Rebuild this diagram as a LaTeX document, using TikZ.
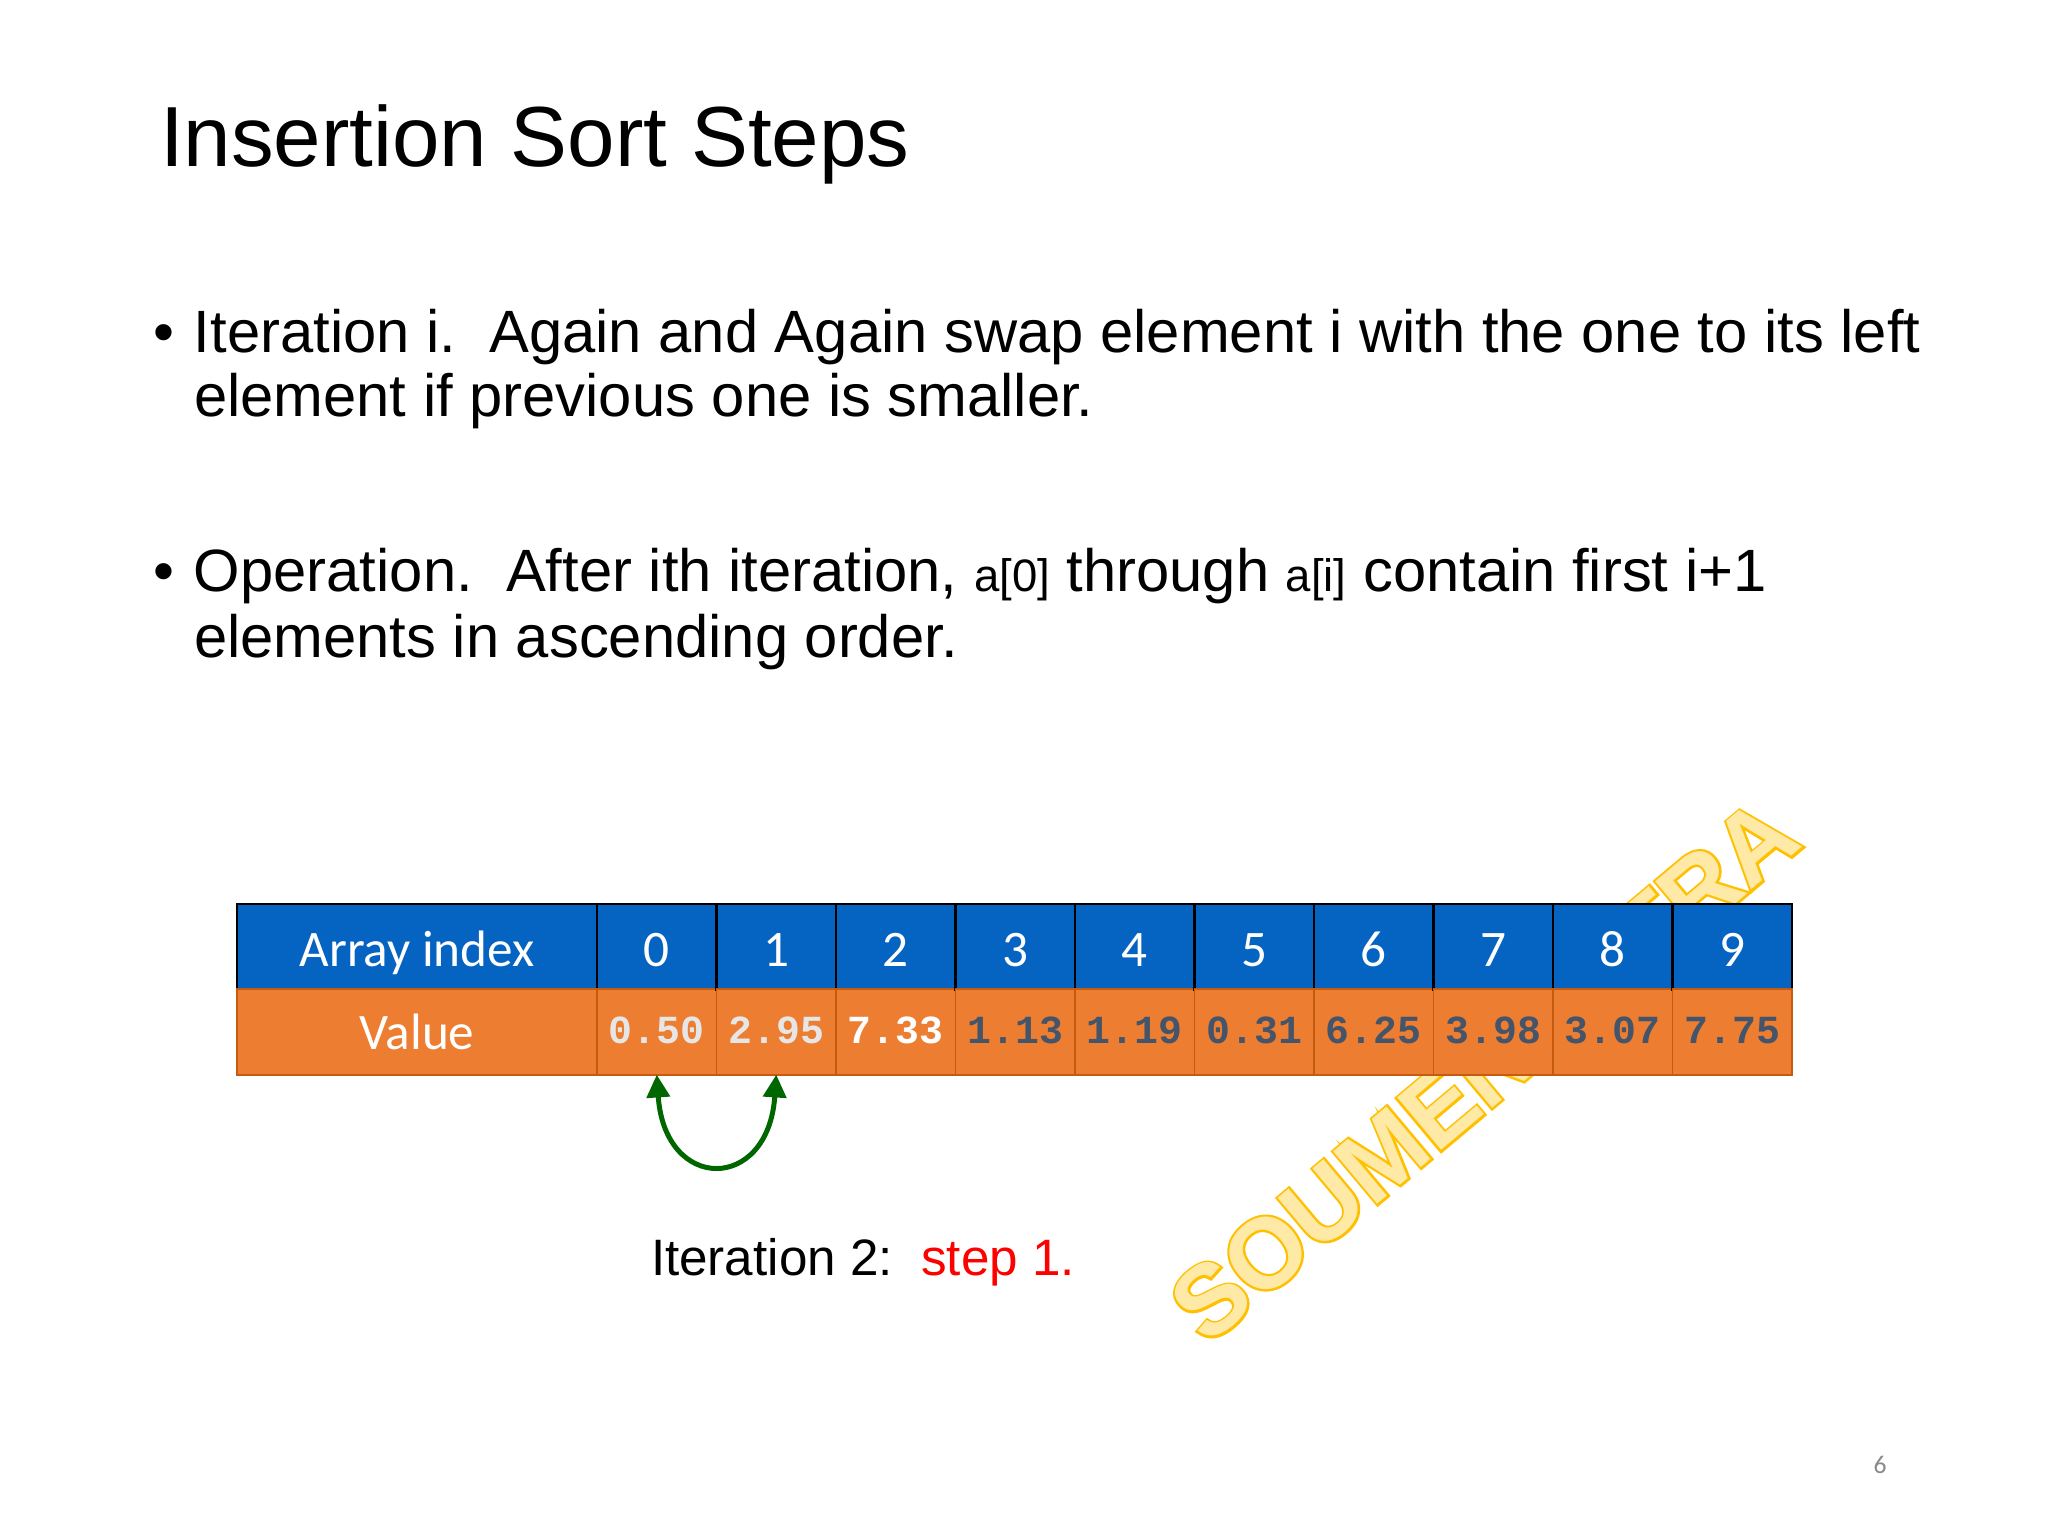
\documentclass[tikz,border=0pt]{standalone}
\usepackage{fontspec}
\setmainfont{Liberation Sans}
\newfontfamily\calibri{Carlito}
\newfontfamily\couriernew{Liberation Mono Bold}
\newfontfamily\wmfont{Liberation Sans Bold}
\newfontfamily\wmoutline{Liberation Sans Bold}[FakeBold=4.5]
\usetikzlibrary{calc}
\usetikzlibrary{arrows.meta}
\usetikzlibrary{positioning}

\definecolor{hdrblue}{HTML}{0563C1}
\definecolor{valorange}{HTML}{ED7D31}
\definecolor{valedge}{HTML}{C55A11}
\definecolor{valdark}{HTML}{44546A}
\definecolor{vallight}{HTML}{E7E6E6}
\definecolor{swapgreen}{HTML}{006600}
\definecolor{wmgold}{HTML}{FFC000}
\definecolor{wmfill}{HTML}{FFE9A6}
\definecolor{slidegrey}{HTML}{898989}

\begin{document}
\begin{tikzpicture}[x=0.3515625pt, y=-0.3515625pt,
  every node/.style={inner sep=0pt, outer sep=0pt},
  bodyline/.style={anchor=base west, font=\fontsize{21}{25}\selectfont},
  idxhead/.style={draw=black, line width=0.75pt, fill=hdrblue, text=white,
    font=\calibri\fontsize{18}{22}\selectfont, minimum height=30pt,
    text height=16.4pt, text depth=2.4pt},
  valcell/.style={draw=valedge, line width=0.6pt, fill=valorange,
    minimum height=30pt}]
\useasboundingbox (0,0) rectangle (2048,1536);

\node[anchor=base west, font=\fontsize{30}{36}\selectfont] (title) at (160,167) {Insertion Sort Steps};

\node[bodyline] (iter) at (194,353) {\llap{\makebox[14.4pt][l]{•}}Iteration i.\ \ Again and Again swap element i with the one to its left};
\node[bodyline] (iter2) at (194,417) {element if previous one is smaller.};
\node[bodyline] (oper) at (194,592) {\llap{\makebox[14.4pt][l]{•}}Operation.\ \ After ith iteration, {\fontsize{16}{16}\selectfont a[0]} through {\fontsize{16}{16}\selectfont a[i]} contain first i+1};
\node[bodyline] (oper2) at (194,657) {elements in ascending order.};

% watermark, behind the array
\node[rotate=40, text=wmgold, font=\wmoutline\fontsize{35}{35}\selectfont] (wmo) at (1484,1070) {SOUMEN MITRA};
\node[rotate=40, text=wmfill, font=\wmfont\fontsize{35}{35}\selectfont] (wm) at (1484,1070) {SOUMEN MITRA};

% the array
\node[idxhead, minimum width=126.5625pt] (lab) at (417,947) {Array index};
\node[valcell, minimum width=126.5625pt, text=white, font=\calibri\fontsize{18}{22}\selectfont,
  text height=14.8pt, text depth=2.4pt] (vlab) at (417,1032) {Value};
\foreach \v/\c [count=\i from 0] in {0.50/vallight, 2.95/vallight, 7.33/white, 1.13/valdark, 1.19/valdark,
  0.31/valdark, 6.25/valdark, 3.98/valdark, 3.07/valdark, 7.75/valdark} {
 \node[idxhead, minimum width=42.0117pt] (h\i) at ({656.75+119.5*\i},947) {\i};
 \node[valcell, minimum width=42.0117pt, text=\c, font=\couriernew\fontsize{14}{16}\selectfont,
   text height=10pt, text depth=1.6pt] (v\i) at ({656.75+119.5*\i},1032) {\v};
}

\draw[swapgreen, line width=1.75pt, {Triangle[length=8pt,width=8pt]}-{Triangle[length=8pt,width=8pt]}]
  (v0.south) .. controls +(8,118) and +(-8,118) .. (v1.south);

\node[anchor=base west, font=\fontsize{18}{22}\selectfont] (step) at (651,1275) {Iteration 2:\ \ \textcolor{red}{step 1.}};

\node[text=slidegrey, font=\calibri\fontsize{9}{10}\selectfont] (pg) at (1880,1465) {6};
\end{tikzpicture}
\end{document}
